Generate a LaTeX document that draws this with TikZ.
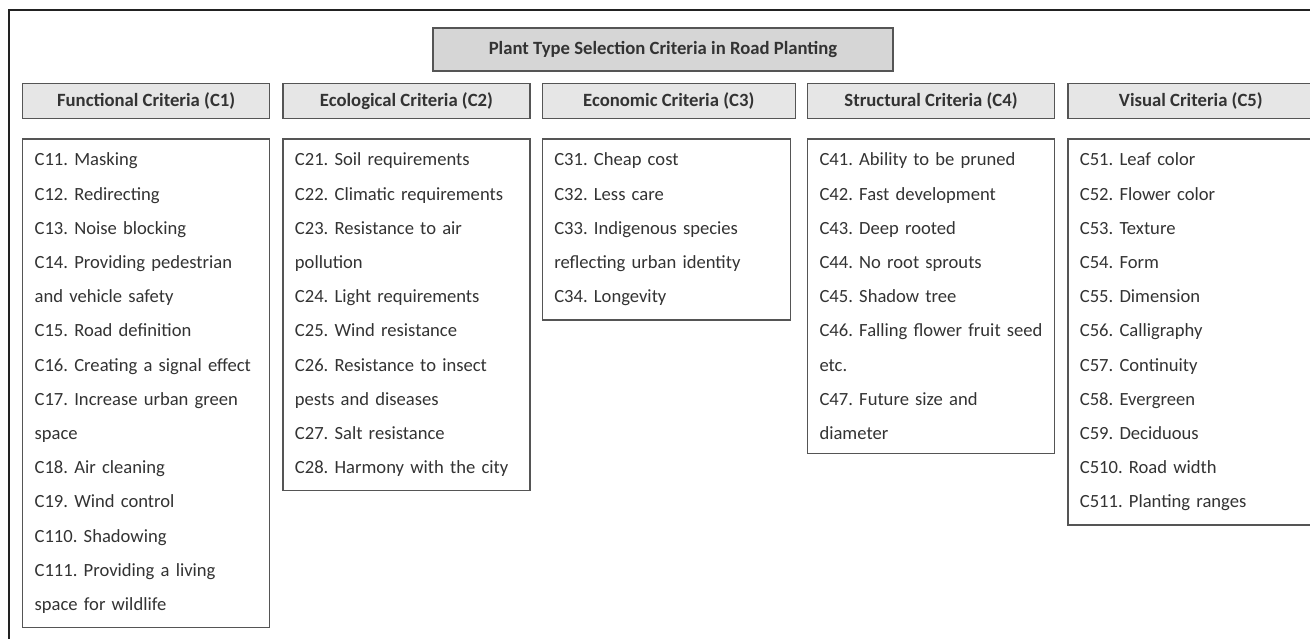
\documentclass[tikz,border=0pt]{standalone}
\usepackage{fontspec}
\setmainfont{Carlito}
\usetikzlibrary{positioning}
\frenchspacing
\hyphenpenalty=10000
\definecolor{critInk}{HTML}{333333}
\definecolor{critLine}{HTML}{555555}
\definecolor{critFrame}{HTML}{222222}
\definecolor{critTitleBg}{HTML}{D6D6D6}
\definecolor{critHeadBg}{HTML}{E6E6E6}
\tikzset{
  titlebox/.style={rectangle,draw=critLine,fill=critTitleBg,line width=1.3pt,
    minimum width=460pt,minimum height=43pt,text=critInk,
    font=\fontsize{18.7}{22}\selectfont\bfseries},
  crithead/.style={rectangle,draw=critLine,fill=critHeadBg,line width=1.3pt,
    minimum width=247pt,minimum height=35pt,text=critInk,
    font=\fontsize{18.7}{22}\selectfont\bfseries},
  critlist/.style={rectangle,draw=critLine,fill=white,line width=1.3pt,
    text width=223pt,inner xsep=12pt,inner ysep=14pt,align=left,text=critInk,
    font=\fontsize{18.6}{34.2}\selectfont}
}

\begin{document}
\begin{tikzpicture}[x=1pt,y=-1pt,node distance=19pt and 12pt]
  \useasboundingbox (0,0) rectangle (1310,639);
  % outer frame, only top and left edges show
  \draw[critFrame,line width=2pt] (9,639) -- (9,10) -- (1310,10);

  \node[titlebox] (title) at (663,49.5) {Plant Type Selection Criteria in Road Planting};

  % column headers
  \node[crithead, anchor=north west] (head1) at (22,83) {Functional Criteria (C1)};
  \node[crithead, right=of head1] (head2) {Ecological Criteria (C2)};
  \node[crithead, right=11pt of head2, minimum width=253pt] (head3) {Economic Criteria (C3)};
  \node[crithead, right=11pt of head3] (head4) {Structural Criteria (C4)};
  \node[crithead, right=of head4, minimum width=246pt] (head5) {Visual Criteria (C5)};

  % criteria lists
  \node[critlist, below right=19pt and 0pt of head1.south west] (list1) {C11. Masking\\
    C12. Redirecting\\
    C13. Noise blocking\\
    C14. Providing pedestrian\\
    and vehicle safety\\
    C15. Road definition\\
    C16. Creating a signal effect\\
    C17. Increase urban green\\
    space\\
    C18. Air cleaning\\
    C19. Wind control\\
    C110. Shadowing\\
    C111. Providing a living\\
    space for wildlife};
  \node[critlist, below right=19pt and 0pt of head2.south west] (list2) {C21. Soil requirements\\
    C22. Climatic requirements\\
    C23. Resistance to air\\
    pollution\\
    C24. Light requirements\\
    C25. Wind resistance\\
    C26. Resistance to insect\\
    pests and diseases\\
    C27. Salt resistance\\
    C28. Harmony with the city};
  \node[critlist, below right=19pt and 0pt of head3.south west, text width=224pt] (list3) {C31. Cheap cost\\
    C32. Less care\\
    C33. Indigenous species\\
    reflecting urban identity\\
    C34. Longevity};
  \node[critlist, below right=19pt and 0pt of head4.south west] (list4) {C41. Ability to be pruned\\
    C42. Fast development\\
    C43. Deep rooted\\
    C44. No root sprouts\\
    C45. Shadow tree\\
    C46. Falling flower fruit seed\\
    etc.\\
    C47. Future size and\\
    diameter};
  \node[critlist, below right=19pt and 0pt of head5.south west, text width=222pt] (list5) {C51. Leaf color\\
    C52. Flower color\\
    C53. Texture\\
    C54. Form\\
    C55. Dimension\\
    C56. Calligraphy\\
    C57. Continuity\\
    C58. Evergreen\\
    C59. Deciduous\\
    C510. Road width\\
    C511. Planting ranges};
\end{tikzpicture}
\end{document}
